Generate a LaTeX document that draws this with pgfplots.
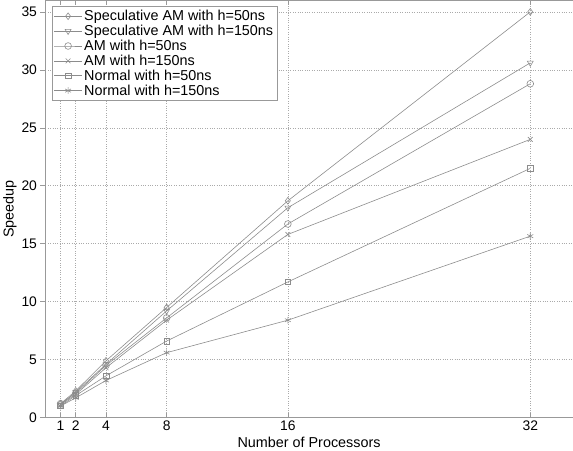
\documentclass[border=0pt]{standalone}
\usepackage{fontspec}
\setmainfont{Liberation Sans}
\usepackage{pgfplots}
\pgfplotsset{compat=1.18}
\definecolor{linegray}{RGB}{140,140,140}
\definecolor{gridgray}{RGB}{170,170,170}

\begin{document}
\begin{tikzpicture}
\begin{axis}[
  scale only axis,
  width=532pt, height=421pt,
  xmin=0, xmax=34.8, ymin=0, ymax=36,
  xtick={1,2,4,8,16,32},
  ytick={0,5,10,15,20,25,30,35},
  axis x line=box, axis y line=left,
  axis line style={-, color=gray!80, line width=0.6pt},
  tick style={color=gray!80, line width=0.5pt},
  xtick align=inside, ytick align=outside, major tick length=5pt,
  /pgf/number format/assume math mode=true,
  tick label style={font=\fontsize{14}{16}\selectfont},
  label style={font=\fontsize{14.5}{16}\selectfont},
  xlabel={Number of Processors},
  ylabel={Speedup},
  xlabel style={yshift=1pt},
  ylabel style={yshift=-2pt},
  grid=major,
  grid style={dotted, color=gridgray, line width=0.5pt},
  legend cell align=left,
  legend style={at={(0.012,0.986)}, anchor=north west,
    font=\fontsize{14.5}{16}\selectfont, draw=gray!80,
    row sep=-1pt, inner sep=2pt},
  legend image code/.code={
    \draw[mark repeat=2, mark phase=2]
      plot coordinates {(0pt,0pt)(14pt,0pt)(28pt,0pt)};},
  every axis plot/.append style={color=linegray, line width=0.6pt,
    mark size=3.4pt, mark options={solid, fill=none}},
]
\addplot[mark=diamond] coordinates {
  (1,1.2)(2,2.3)(4,4.9)(8,9.5)(16,18.7)(32,35.0)
};
\addlegendentry{Speculative AM with h=50ns}
\addplot[mark=triangle, mark options={rotate=180}] coordinates {
  (1,1.1)(2,2.2)(4,4.6)(8,9.2)(16,18.1)(32,30.6)
};
\addlegendentry{Speculative AM with h=150ns}
\addplot[mark=o] coordinates {
  (1,1.2)(2,2.1)(4,4.5)(8,8.6)(16,16.7)(32,28.8)
};
\addlegendentry{AM with h=50ns}
\addplot[mark=x] coordinates {
  (1,1.1)(2,2.0)(4,4.3)(8,8.4)(16,15.8)(32,24.0)
};
\addlegendentry{AM with h=150ns}
\addplot[mark=square, mark size=2.8pt] coordinates {
  (1,1.0)(2,1.9)(4,3.6)(8,6.6)(16,11.7)(32,21.5)
};
\addlegendentry{Normal with h=50ns}
\addplot[mark=asterisk] coordinates {
  (1,1.0)(2,1.7)(4,3.2)(8,5.6)(16,8.4)(32,15.65)
};
\addlegendentry{Normal with h=150ns}
\end{axis}
\end{tikzpicture}
\end{document}
